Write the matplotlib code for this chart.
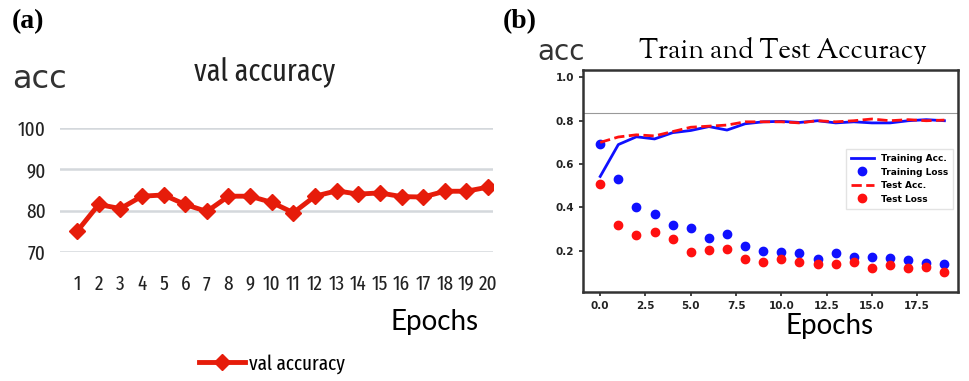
import matplotlib.pyplot as plt
from matplotlib import font_manager

# panel (a) data
epochs_a = list(range(1, 21))
val_acc = [75.0, 81.5, 80.5, 83.5, 83.8, 81.5, 79.8, 83.5, 83.5, 82.0,
           79.5, 83.5, 84.8, 84.0, 84.3, 83.4, 83.3, 84.7, 84.7, 85.7]
yticks_a = [70, 80, 90, 100]

# panel (b) data
epochs_b = list(range(0, 20))
train_acc = [0.543, 0.69, 0.726, 0.716, 0.745, 0.755, 0.773, 0.757, 0.786, 0.795,
             0.797, 0.792, 0.80, 0.79, 0.795, 0.79, 0.79, 0.80, 0.805, 0.80]
test_acc = [0.70, 0.725, 0.735, 0.73, 0.75, 0.77, 0.775, 0.78, 0.795, 0.795,
            0.795, 0.79, 0.80, 0.795, 0.80, 0.808, 0.80, 0.805, 0.80, 0.803]
train_loss = [0.693, 0.532, 0.403, 0.371, 0.32, 0.303, 0.257, 0.279, 0.222, 0.20,
              0.194, 0.188, 0.161, 0.188, 0.171, 0.171, 0.165, 0.158, 0.146, 0.141]
test_loss = [0.506, 0.319, 0.271, 0.288, 0.253, 0.196, 0.206, 0.207, 0.164, 0.147,
             0.162, 0.147, 0.137, 0.137, 0.147, 0.121, 0.133, 0.121, 0.126, 0.103]
yticks_b = [0.2, 0.4, 0.6, 0.8, 1.0]
xticks_b = [0.0, 2.5, 5.0, 7.5, 10.0, 12.5, 15.0, 17.5]

names = {f.name for f in font_manager.fontManager.ttflist}


def pick(cands):
    for c in cands:
        if c in names:
            return c
    return 'DejaVu Sans'


narrow = pick(['Fira Sans Extra Condensed', 'Fira Sans Condensed', 'Roboto Condensed',
               'Open Sans Condensed', 'DejaVu Sans'])
humanist = pick(['Lato', 'Cabin', 'Open Sans', 'DejaVu Sans'])
bookserif = pick(['Sorts Mill Goudy', 'Goudy Bookletter 1911', 'Liberation Serif'])

W, H = 970, 381
fig = plt.figure(figsize=(9.7, 3.81), dpi=100)


def box(l, t, r, b):
    return [l / W, 1 - b / H, (r - l) / W, (b - t) / H]


RED = '#e61c0a'

# ---- panel (a)
ax = fig.add_axes(box(60, 128, 493, 252))
ax.plot(epochs_a, val_acc, color=RED, lw=3.5, marker='D', ms=8, label='val accuracy')
ax.set_xlim(0.21, 20.23)
ax.set_ylim(70, 100)
ax.set_yticks(yticks_a)
ax.set_xticks(epochs_a)
for s in ax.spines.values():
    s.set_visible(False)
ax.grid(axis='y', color='#d4d8dc', lw=1.8)
ax.set_axisbelow(True)
ax.tick_params(length=0, labelsize=15, pad=10)
ax.tick_params(axis='x', pad=16)
for lab in ax.get_xticklabels() + ax.get_yticklabels():
    lab.set_family(narrow)
    lab.set_color('#222222')
ax.legend(loc='center', bbox_to_anchor=(0.49, -0.9), frameon=False,
          prop={'family': narrow, 'size': 15}, handlelength=2.2, handletextpad=0.2)

fig.text(12 / W, 1 - 22 / H, '(a)', family='Liberation Serif', weight='bold',
         fontsize=20, va='center')
fig.text(12 / W, 1 - 80 / H, 'acc', fontsize=23, va='center', color='#333333')
fig.text(265 / W, 1 - 72 / H, 'val accuracy', family=narrow, fontsize=22,
         ha='center', va='center', color='#222222')
fig.text(435 / W, 1 - 322 / H, 'Epochs', family=humanist, fontsize=20,
         ha='center', va='center')

# ---- panel (b)
bx = fig.add_axes(box(583, 70, 958, 292))
bx.plot(epochs_b, train_acc, color='#1010ff', lw=2, label='Training Acc.')
bx.plot(epochs_b, train_loss, 'o', color='#1010ff', ms=6, label='Training Loss')
bx.plot(epochs_b, test_acc, '--', color='#ff1010', lw=2, label='Test Acc.')
bx.plot(epochs_b, test_loss, 'o', color='#ff1010', ms=6, label='Test Loss')
bx.axhline(0.837, color='#999999', lw=0.8)
bx.set_xlim(-0.95, 19.75)
bx.set_ylim(0.01, 1.034)
bx.set_yticks(yticks_b)
bx.set_xticks(xticks_b)
bx.set_yticklabels(['%.1f' % v for v in yticks_b])
bx.set_xticklabels(['%.1f' % v for v in xticks_b])
for s in bx.spines.values():
    s.set_color('#333333')
    s.set_linewidth(1.8)
bx.tick_params(labelsize=7.5, length=3, width=1.2, colors='#222222')
for lab in bx.get_xticklabels() + bx.get_yticklabels():
    lab.set_weight('bold')
bx.legend(loc='center right', bbox_to_anchor=(1.0, 0.51),
          prop={'weight': 'bold', 'size': 6.5}, borderpad=0.6, labelspacing=0.5,
          handlelength=2.5, fancybox=False, edgecolor='#dddddd')

fig.text(503 / W, 1 - 22 / H, '(b)', family='Liberation Serif', weight='bold',
         fontsize=20, va='center')
fig.text(537 / W, 1 - 52 / H, 'acc', fontsize=20, va='center', color='#333333')
fig.text(783 / W, 1 - 50 / H, 'Train and Test Accuracy', family=bookserif,
         fontsize=19.5, ha='center', va='center')
fig.text(830 / W, 1 - 326 / H, 'Epochs', family=humanist, fontsize=20,
         ha='center', va='center')

fig.savefig('out.png', dpi=100)
